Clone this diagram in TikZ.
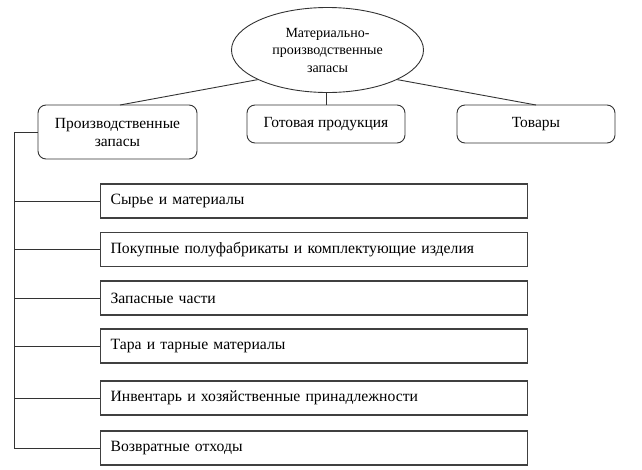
\documentclass[tikz,border=0pt]{standalone}
\usepackage{fontspec}
\setmainfont{Liberation Serif}
\usetikzlibrary{shapes.geometric}
\begin{document}
\begin{tikzpicture}[x=1pt,y=-1pt,
  line/.style={draw=black!80,line width=0.9pt},
  topbox/.style={draw=black!80,line width=0.9pt,rounded corners=8pt,align=center,
    font=\fontsize{15.5}{18}\selectfont,inner sep=0pt},
  listbox/.style={draw=black!75,line width=1.2pt,anchor=west,minimum height=34pt,
    text width=407pt,inner xsep=10pt,inner ysep=0pt,align=left,
    font=\fontsize{15.7}{18}\selectfont}]
\useasboundingbox (0,0) rectangle (642,469);
\node[ellipse,draw=black!80,line width=0.9pt,minimum width=192pt,minimum height=85pt,
  inner sep=0pt,align=center,font=\fontsize{14}{17.5}\selectfont]
  (E) at (327.5,50) {Материально-\\производственные\\запасы};
\node[topbox,minimum width=159pt,minimum height=54pt] (P) at (117.5,132)
  {Производственные\\запасы};
\node[topbox,minimum width=158pt,minimum height=38pt] (G) at (326,124)
  {Готовая продукция};
\node[topbox,minimum width=158pt,minimum height=38pt] (T) at (536,124)
  {Товары};
\coordinate (Ptop) at (120,105);
\coordinate (Ttop) at (536,105);
\draw[line] (E.203) -- (Ptop);
\draw[line] (E.south -| G.north) -- (G.north);
\draw[line] (E.337) -- (Ttop);
\node[listbox] (L1) at (100,201) {Сырье и материалы};
\node[listbox] (L2) at (100,249.5) {Покупные полуфабрикаты и комплектующие изделия};
\node[listbox] (L3) at (100,298) {Запасные части};
\node[listbox] (L4) at (100,346) {Тара и тарные материалы};
\node[listbox] (L5) at (100,398) {Инвентарь и хозяйственные принадлежности};
\node[listbox] (L6) at (100,448) {Возвратные отходы};
\coordinate (bus) at (14,132);
\draw[line] (P.west) -- (bus) |- (L6.west);
\foreach \i in {1,...,5} \draw[line] (L\i.west) -- (L\i.west -| bus);
\end{tikzpicture}
\end{document}
